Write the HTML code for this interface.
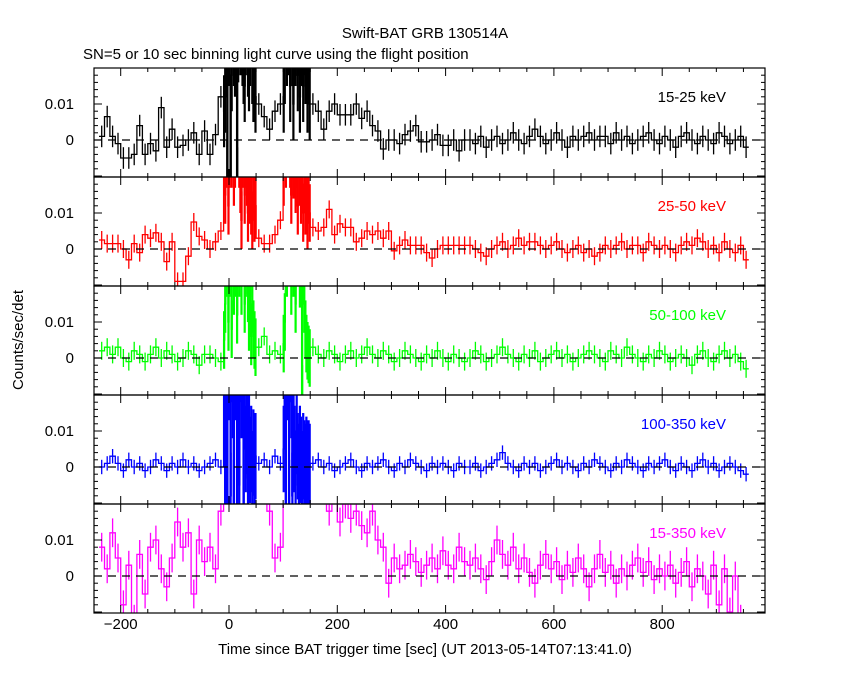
<!DOCTYPE html>
<html><head><meta charset="utf-8"><style>
body{margin:0;background:#fff}
svg text{font-family:"Liberation Sans",sans-serif;font-size:15px}
</style></head><body>
<svg id="chart" width="850" height="680" viewBox="0 0 850 680" xmlns="http://www.w3.org/2000/svg">
<rect width="850" height="680" fill="#fff"/>
<text x="425" y="38" text-anchor="middle">Swift-BAT GRB 130514A</text>
<text x="83" y="59">SN=5 or 10 sec binning light curve using the flight position</text>
<text transform="translate(23,340) rotate(-90)" text-anchor="middle">Counts/sec/det</text>
<text x="425" y="654" text-anchor="middle">Time since BAT trigger time [sec] (UT 2013-05-14T07:13:41.0)</text>
<g id="plots"></g>
</svg>
<script>
// regular 10-s bins from -240 to 960 (values in 1e-3 counts/sec/det); null = burst (fine bins)
const bandLabels = ["15-25 keV","25-50 keV","50-100 keV","100-350 keV","15-350 keV"];
const bandColors = ["#000","#f00","#0f0","#00f","#f0f"];
const xTicks = [-200,0,200,400,600,800];
const yTicks = [0,0.01];
const N6=[null,null,null,null,null,null], N5=[null,null,null,null,null];
const blackVals = [1,6.5,1,-1,-5,-5,-4,4,-4,-1,-3,9,-2,3,-2,-1.5,0,2,-4,2.5,-4,1.5,12, ...N6, 10,6.5,3,8,10, ...N5,
 10,8,3,8,10,7,7,7,10,6,8,4,2.5,-2.5,0,0,-1,1.5,2.5,4,-0.5,-0.5,0,1.5,-1.5,-1.5,0,-3,0,
 0,-1,1,-2,0,1,-1,0,2,0,-1,1,3,1,-1,0,2,0,-2,1,0,1,2,0,1,1,-1,2,0,1,-1,0,1,2,0,-1,1,0,-2,1,2,0,-1,1,0,-1,2,1,-1,0,1,-2];
const redVals = [2.5,1.5,1.5,1.5,0,-3,1.5,-1,4,3,4.5,2,-3.5,2,-9,-9,-2,7.5,3.5,2.5,0,2,5, ...N6, 3,1.5,1.5,4,8, ...N5,
 6,5,6,11,4,7,6,6,2,3,5,4,5,3,5,-0.5,1,2.5,1,1,1,-1,-2.5,0,1,1,1,1,1,
 1,0,-1,-2,0,1,2,0,1,3,1,2,2,1,0,1,2,0,-1,0,1,-1,0,-2,-1,1,0,1,2,0,1,1,-1,2,1,0,1,0,-1,1,2,1,3,2,0,1,-1,2,0,-1,1,-3];
const greenVals = [2,3,1,3,0,-1,2,1,-1,1,3,0,2,1,-1,0,2,1,-2,1,1,0,-1, ...N6, 3,6,1,2,1, ...N5,
 3,1,0,2,1,-1,1,2,0,1,3,1,0,2,1,-1,0,2,1,0,-1,1,0,2,0,-1,1,0,-1,
 0,2,1,-1,0,1,3,1,0,-1,1,0,2,-1,0,1,2,0,1,-1,0,1,2,1,0,-1,2,1,0,3,1,0,-1,1,0,2,1,-1,0,1,0,-2,1,2,0,-1,1,2,0,1,-1,-3];
const blueVals = [0,1,3,1,-1,2,0,1,-1,0,2,1,-1,1,0,2,0,1,-1,0,1,2,0, ...N6, 1,2,0,3,1, ...N5,
 1,2,0,1,-1,0,1,2,0,-1,1,0,1,2,0,-1,1,0,2,1,0,-1,1,0,1,0,-1,1,0,
 0,1,-1,0,1,2,4,1,0,-1,1,0,1,-1,0,1,2,0,1,0,-1,1,0,2,1,0,-1,1,0,2,1,0,-1,1,0,1,2,0,-1,1,0,-1,1,2,0,1,-1,0,1,0,-1,-2];
const magVals = [8,2,12,5,-8,3,-12,6,-5,8,10,2,-3,5,15,8,12,-5,10,4,8,2,18, ...N6, 30,25,18,5,8, ...N5,
 30,30,25,18,30,15,20,16,18,14,12,18,10,8,-2,5,2,3,6,4,1,3,5,2,7,3,2,8,4,
 3,5,2,-1,4,10,6,3,8,2,5,1,-2,3,6,2,4,-1,3,1,5,2,-3,2,6,1,3,-2,2,0,3,5,1,4,-1,2,0,3,-2,1,4,-3,2,0,-5,3,-8,2,-10,0,-12,-15];
// fine 2-s burst bins: first from -10 to 50, second from 100 to 150
const blackB1 = [8,12,25,-10,30,25,-10,18,30,25,22,30,-12,26,30,28,30,25,20,15,28,30,22,18,25,30,20,15,25,12];
const blackB2 = [12,20,30,25,30,28,15,30,25,10,30,25,30,18,30,12,25,30,15,28,20,30,12,25,10];
const redB1 = [25,15,25,30,12,25,30,25,30,20,25,30,28,30,25,18,8,25,30,15,25,20,10,22,15,12,8,20,10,12];
const redB2 = [20,30,25,30,28,30,25,15,30,22,30,18,25,12,30,20,15,25,10,18,12,20,8,15,10];
const greenB1 = [5,15,25,30,10,25,30,8,30,20,25,30,12,30,25,30,20,28,30,15,25,30,18,10,25,6,15,8,5,3];
const greenB2 = [4,10,30,25,30,28,30,20,30,25,30,15,30,28,30,22,30,-10,25,15,8,4,2,1,0];
const blueB1 = [30,-10,30,-10,25,30,-8,30,20,-10,30,25,-10,30,-5,30,20,30,-10,25,5,10,-3,8,2,5,-2,4,0,3];
const blueB2 = [5,30,-10,30,25,-10,30,20,-8,30,5,-5,10,3,0,5,2,-2,3,1,0,2,-1,1,0];
const magB1 = [30,30,30,30,30,30,30,30,30,30,30,30,30,30,30,30,30,30,30,30,30,30,30,30,30,30,30,30,30,30];
const magB2 = [30,30,30,30,30,30,30,30,30,30,30,30,30,30,30,30,30,30,30,30,30,30,30,30,30];
const errs = [3,2.5,2.5,2,4];
const burstErrs = [10,8,8,12,10];

const series = [[blackVals,blackB1,blackB2],[redVals,redB1,redB2],[greenVals,greenB1,greenB2],[blueVals,blueB1,blueB2],[magVals,magB1,magB2]];
const L=94,R=765,PH=109,T0=68;
const xs = t => 229 + t*0.5415;
const NS="http://www.w3.org/2000/svg";
const g=document.getElementById('plots');
function mk(tag,attrs,parent){const e=document.createElementNS(NS,tag);for(const k in attrs)e.setAttribute(k,attrs[k]);(parent||g).appendChild(e);return e;}

series.forEach((s,p)=>{
  const top=T0+p*PH, bot=top+PH, zero=top+72;
  const ys = v => zero - v*3.6;
  const pg=mk('g',{});
  
  
  const cp=mk('clipPath',{id:'c'+p},pg); mk('rect',{x:L,y:top,width:R-L,height:PH},cp);
  const bins=[];
  s[0].forEach((v,i)=>{ if(v!==null) bins.push({t0:-240+i*10,t1:-230+i*10,v:v,e:errs[p],f:false}); });
  s[1].forEach((v,i)=>bins.push({t0:-10+i*2,t1:-8+i*2,v:v,e:burstErrs[p],f:true}));
  s[2].forEach((v,i)=>bins.push({t0:100+i*2,t1:102+i*2,v:v,e:burstErrs[p],f:true}));
  bins.sort((a,b)=>a.t0-b.t0);
  const dg=mk('g',{'clip-path':'url(#c'+p+')',stroke:bandColors[p],'stroke-width':1.3,fill:'none'},pg);
  
  
  let d='';
  bins.forEach((b,i)=>{
    const x0=xs(b.t0),x1=xs(b.t1),y=ys(b.v);
    d += (i===0?'M':'L')+x0.toFixed(1)+','+y.toFixed(1)+'L'+x1.toFixed(1)+','+y.toFixed(1);
    const xc=((x0+x1)/2).toFixed(1);
    const eb=mk('line',{x1:xc,x2:xc,y1:ys(b.v+b.e),y2:ys(b.v-b.e),'stroke-width':b.f?2.2:1.3},dg);
    
    
  });
  const path=mk('path',{d:d},dg);
  
  
  const zl=mk('line',{x1:L,x2:R,y1:zero,y2:zero,stroke:'#000','stroke-dasharray':'8,6','stroke-width':1.2},pg);
  
  
  const fr=mk('rect',{x:L,y:top,width:R-L,height:PH,fill:'none',stroke:'#000','stroke-width':1.2},pg);
  
  
  for(let t=-200;t<=950;t+=50){
    const len = t%200===0?8:4, x=xs(t);
    mk('line',{x1:x,x2:x,y1:top,y2:top+len,stroke:'#000'},pg);
    mk('line',{x1:x,x2:x,y1:bot,y2:bot-len,stroke:'#000'},pg);
  }
  for(let v=-0.01;v<=0.02;v+=0.002){
    const y=ys(v*1000); if(y<top||y>bot) continue;
    const major=Math.abs(Math.round(v*1000)%10)===0;
    const len=major?8:4;
    mk('line',{x1:L,x2:L+len,y1:y,y2:y,stroke:'#000'},pg);
    mk('line',{x1:R,x2:R-len,y1:y,y2:y,stroke:'#000'},pg);
  }
  yTicks.forEach(v=>{
    const tx=mk('text',{x:74,y:ys(v*1000)+5,'text-anchor':'end'},pg);
    
    
    tx.textContent = v===0?'0':'0.01';
  });
  const bl=mk('text',{x:726,y:top+34,'text-anchor':'end',fill:bandColors[p]},pg);
  
  
  bl.textContent=bandLabels[p];
});
xTicks.forEach(t=>{
  const tx=mk('text',{x:xs(t),y:629,'text-anchor':'middle'});
  
  
  tx.textContent=String(t).replace('-','\u2212');
});
</script>
</body></html>
